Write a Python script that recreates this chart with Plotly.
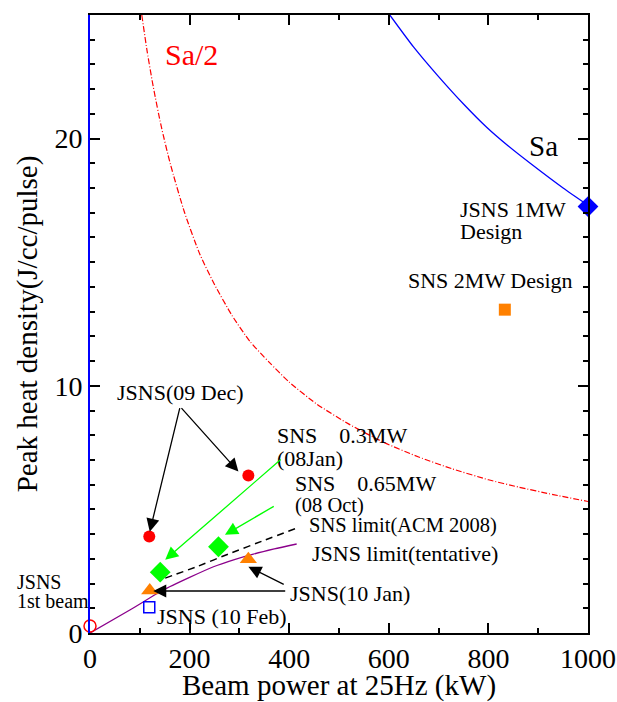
import plotly.graph_objects as go

FONT = "Liberation Serif, Times New Roman, Times, serif"

# ---- data ----
sa_x = [602, 650, 696, 750, 797, 840, 884, 950, 1000]
sa_y = [25.0, 23.7, 22.6, 21.4, 20.45, 19.7, 19.0, 18.0, 17.3]

sa2_x = [104, 115, 127, 143, 161, 190, 221, 250, 285, 321, 360, 400, 456, 520, 591, 660, 726, 800, 861, 930, 1000]
sa2_y = [25.0, 23.5, 22.1, 20.5, 19.0, 17.0, 15.3, 14.1, 12.85, 11.8, 10.95, 10.15, 9.25, 8.45,
         7.7, 7.12, 6.65, 6.2, 5.9, 5.6, 5.32]

jsns_lim_x = [0, 80, 147, 200, 248, 290, 328, 370, 415]
jsns_lim_y = [0.0, 0.93, 1.74, 2.25, 2.68, 2.97, 3.19, 3.4, 3.6]

sns_lim_x = [151, 214, 281, 350, 415]
sns_lim_y = [2.22, 2.68, 3.22, 3.75, 4.24]

first_beam = ([0], [0.28])
jsns_10feb = ([119], [1.04])
jsns_10jan = ([120, 318], [1.72, 2.98])
jsns_09dec = ([119, 318], [3.9, 6.37])
sns_points = ([141, 258], [2.46, 3.49])
jsns_1mw = ([1000], [17.25])
sns_2mw = ([833], [13.08])

fig = go.Figure()

fig.add_trace(go.Scatter(x=sa_x, y=sa_y, mode="lines",
                         line=dict(color="#0000FF", width=1.3, shape="spline", smoothing=0.6)))
fig.add_trace(go.Scatter(x=sa2_x, y=sa2_y, mode="lines",
                         line=dict(color="#FF0000", width=1.2, dash="6px,2px,1px,2px", shape="spline", smoothing=0.6)))
fig.add_trace(go.Scatter(x=jsns_lim_x, y=jsns_lim_y, mode="lines",
                         line=dict(color="#8B008B", width=1.3, shape="spline", smoothing=0.6)))
fig.add_trace(go.Scatter(x=sns_lim_x, y=sns_lim_y, mode="lines",
                         line=dict(color="black", width=1.5, dash="7px,5px", shape="spline", smoothing=0.6)))

def mk(pts, symbol, color, size, open_=False):
    if open_:
        m = dict(symbol=symbol, size=size, color=color, line=dict(color=color, width=1.5))
    else:
        m = dict(symbol=symbol, size=size, color=color, line=dict(width=0))
    fig.add_trace(go.Scatter(x=pts[0], y=pts[1], mode="markers", marker=m, cliponaxis=False))

mk(first_beam, "circle-open", "#FF0000", 12, True)
mk(jsns_10feb, "square-open", "#0000FF", 11, True)
mk(jsns_10jan, "triangle-up", "#FF8000", 15)
mk(jsns_09dec, "circle", "#FF0000", 12)
mk(sns_points, "diamond", "#00FF00", 16)
mk(jsns_1mw, "diamond", "#0000FF", 16)
mk(sns_2mw, "square", "#FF8000", 12)

# invisible trace for the mirror axes
fig.add_trace(go.Scatter(x=[0], y=[0], xaxis="x2", yaxis="y2", mode="markers",
                         marker=dict(opacity=0), hoverinfo="skip"))

ann = []
def txt(x, y, s, size=22, color="black", xanchor="left", xref="x", yref="y"):
    ann.append(dict(x=x, y=y, xref=xref, yref=yref, text=s, showarrow=False, xanchor=xanchor,
                    yanchor="middle", font=dict(family=FONT, size=size, color=color)))

def arrow(x, y, ax, ay, color="black", width=1.3):
    ann.append(dict(x=x, y=y, ax=ax, ay=ay, xref="x", yref="y", axref="x", ayref="y", text="",
                    showarrow=True, arrowhead=2, arrowsize=2.0, arrowwidth=width, arrowcolor=color,
                    standoff=0, startstandoff=0))

nb = "\u00a0"
txt(203, 23.4, "Sa/2", size=30, color="#FF0000", xanchor="center")
txt(910, 19.7, "Sa", size=29, xanchor="center")
txt(739, 17.15, "JSNS 1MW")
txt(739, 16.25, "Design")
txt(805, 14.28, "SNS 2MW Design", xanchor="center")
txt(372, 7.98, "SNS" + nb * 4 + "0.3MW")
txt(372, 7.06, "(08Jan)")
txt(407, 6.05, "SNS" + nb * 4 + "0.65MW")
txt(407, 5.15, "(08 Oct)", size=20.5)
txt(435, 4.33, "SNS limit(ACM 2008)", size=20.5)
txt(442, 3.23, "JSNS limit(tentative)")
txt(398, 1.58, "JSNS(10 Jan)")
txt(130, 0.66, "JSNS (10 Feb)")
txt(50, 9.72, "JSNS(09 Dec)")
txt(-0.151, 2.07, "JSNS", size=20, xref="paper")
txt(-0.151, 1.31, "1st beam", size=20, xref="paper")
# x-axis title placed below the tick labels
txt(0.5, -0.085, "Beam power at 25Hz (kW)", size=29, xref="paper", yref="paper", xanchor="center")

arrow(120, 4.1, 181, 9.16)
arrow(298, 6.53, 181, 9.16)
arrow(318, 2.68, 392, 1.94)
arrow(127, 1.70, 395, 1.70)
arrow(151, 2.96, 386, 7.07, color="#00FF00")
arrow(271, 3.97, 372, 5.16, color="#00FF00")

fig.update_layout(annotations=ann)

axis_common = dict(ticks="inside", showgrid=False, zeroline=False, showline=True,
                   tickcolor="black", tickwidth=1.5, ticklen=10, automargin=False)
minor_x = dict(dtick=100, ticks="inside", ticklen=5, tickcolor="black", tickwidth=1.5)
minor_y = dict(dtick=1, ticks="inside", ticklen=5, tickcolor="black", tickwidth=1.5)

fig.update_layout(
    width=617, height=702,
    margin=dict(l=90, r=29, t=15, b=69),
    paper_bgcolor="white", plot_bgcolor="white",
    showlegend=False,
    xaxis=dict(range=[0, 1000], dtick=200, linecolor="black", linewidth=1.5, minor=minor_x,
               tickfont=dict(family=FONT, size=28, color="black"),
               **axis_common),
    yaxis=dict(range=[0, 25], dtick=10, linecolor="#0000FF", linewidth=2, minor=minor_y,
               tickfont=dict(family=FONT, size=28, color="black"),
               title=dict(text="Peak heat density(J/cc/pulse)", font=dict(family=FONT, size=29, color="black"), standoff=8),
               **axis_common),
    xaxis2=dict(range=[0, 1000], dtick=200, overlaying="x", side="top", showticklabels=False,
                linecolor="black", linewidth=1.5, minor=minor_x, **axis_common),
    yaxis2=dict(range=[0, 25], dtick=10, overlaying="y", side="right", showticklabels=False,
                linecolor="black", linewidth=1.5, minor=minor_y, **axis_common),
)

fig.write_html("out.html")
